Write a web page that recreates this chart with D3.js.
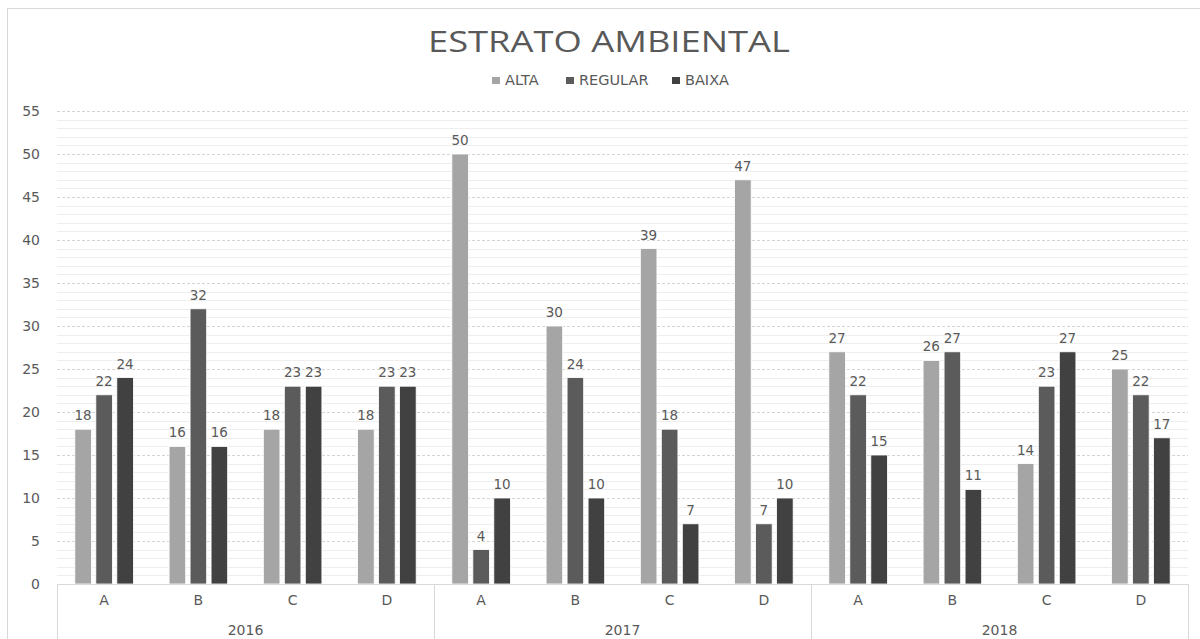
<!DOCTYPE html>
<html>
<head>
<meta charset="utf-8">
<script src="https://cdn.jsdelivr.net/npm/d3@7"></script>
<style>
  body { margin: 0; background: #fff; }
  svg { display: block; font-family: "DejaVu Sans", sans-serif; }
</style>
</head>
<body>
<div id="chart"></div>
<script>
// chart data
const years = ["2016", "2017", "2018"];
const categories = ["A", "B", "C", "D"];
const seriesNames = ["ALTA", "REGULAR", "BAIXA"];
const alta    = [18, 16, 18, 18, 50, 30, 39, 47, 27, 26, 14, 25];
const regular = [22, 32, 23, 23, 4, 24, 18, 7, 22, 27, 23, 22];
const baixa   = [24, 16, 23, 23, 10, 10, 7, 10, 15, 11, 27, 17];
const yTicks = [0, 5, 10, 15, 20, 25, 30, 35, 40, 45, 50, 55];

const colors = { ALTA: "#a5a5a5", REGULAR: "#5b5b5b", BAIXA: "#414141" };
const textColor = "#595959";

const W = 1200, H = 639;
const plot = { left: 57, right: 1188, top: 111, bottom: 584 };

const svg = d3.select("#chart").append("svg")
    .attr("width", W)
    .attr("height", H);

// outer chart border (only top/left visible in the crop)
svg.append("rect")
    .attr("x", 7.5).attr("y", 8.5)
    .attr("width", W + 20).attr("height", H + 20)
    .attr("fill", "none")
    .attr("stroke", "#d9d9d9");

// rows: one per year/category pair
const rows = [];
years.forEach((yr, yi) => categories.forEach((c, ci) => {
    const i = yi * categories.length + ci;
    rows.push({ key: yr + "-" + c, year: yr, cat: c, ALTA: alta[i], REGULAR: regular[i], BAIXA: baixa[i] });
}));

const x = d3.scaleBand()
    .domain(rows.map(d => d.key))
    .range([plot.left, plot.right]);

const xYear = d3.scaleBand()
    .domain(years)
    .range([plot.left, plot.right]);

const xSeries = d3.scaleBand()
    .domain(seriesNames)
    .range([0, x.bandwidth()])
    .paddingInner(0.21)
    .paddingOuter(0.85);

const y = d3.scaleLinear()
    .domain([0, 55])
    .range([plot.bottom, plot.top]);

// minor gridlines every 1
svg.append("g")
    .selectAll("line")
    .data(d3.range(1, 56).filter(v => v % 5 !== 0))
    .enter().append("line")
    .attr("x1", plot.left).attr("x2", plot.right)
    .attr("y1", d => Math.round(y(d)) + 0.5)
    .attr("y2", d => Math.round(y(d)) + 0.5)
    .attr("stroke", "#eeeeee");

// major gridlines every 5 (dashed)
svg.append("g")
    .selectAll("line")
    .data(yTicks.filter(v => v > 0))
    .enter().append("line")
    .attr("x1", plot.left).attr("x2", plot.right)
    .attr("y1", d => Math.round(y(d)) + 0.5)
    .attr("y2", d => Math.round(y(d)) + 0.5)
    .attr("stroke", "#d4d4d4")
    .attr("stroke-dasharray", "3,2");

// y axis labels
svg.append("g")
    .selectAll("text")
    .data(yTicks)
    .enter().append("text")
    .attr("x", 40)
    .attr("y", d => y(d))
    .attr("dy", "0.35em")
    .attr("text-anchor", "end")
    .attr("font-size", "14px")
    .attr("fill", textColor)
    .text(d => d);

// bars
const groups = svg.append("g")
    .selectAll("g")
    .data(rows)
    .enter().append("g")
    .attr("transform", d => `translate(${x(d.key)},0)`);

groups.selectAll("rect")
    .data(d => seriesNames.map(s => ({ s, v: d[s] })))
    .enter().append("rect")
    .attr("x", d => xSeries(d.s))
    .attr("y", d => y(d.v))
    .attr("width", xSeries.bandwidth())
    .attr("height", d => y(0) - y(d.v))
    .attr("fill", d => colors[d.s])
    .attr("stroke", "#ffffff")
    .attr("stroke-width", 0.8);

// value labels
groups.selectAll("text")
    .data(d => seriesNames.map(s => ({ s, v: d[s] })))
    .enter().append("text")
    .attr("x", d => xSeries(d.s) + xSeries.bandwidth() / 2)
    .attr("y", d => y(d.v) - 9)
    .attr("text-anchor", "middle")
    .attr("font-size", "13.5px")
    .attr("fill", textColor)
    .text(d => d.v);

// category axis line
svg.append("line")
    .attr("x1", plot.left).attr("x2", plot.right)
    .attr("y1", plot.bottom + 0.5).attr("y2", plot.bottom + 0.5)
    .attr("stroke", "#d9d9d9");

// year separators
svg.append("g")
    .selectAll("line")
    .data(years.map(yr => xYear(yr)).concat([plot.right]))
    .enter().append("line")
    .attr("x1", d => Math.round(d) + 0.5).attr("x2", d => Math.round(d) + 0.5)
    .attr("y1", plot.bottom).attr("y2", H)
    .attr("stroke", "#d9d9d9");

// category labels
svg.append("g")
    .selectAll("text")
    .data(rows)
    .enter().append("text")
    .attr("x", d => x(d.key) + x.bandwidth() / 2)
    .attr("y", 605)
    .attr("text-anchor", "middle")
    .attr("font-size", "14px")
    .attr("fill", textColor)
    .text(d => d.cat);

// year labels
svg.append("g")
    .selectAll("text")
    .data(years)
    .enter().append("text")
    .attr("x", d => xYear(d) + xYear.bandwidth() / 2)
    .attr("y", 635)
    .attr("text-anchor", "middle")
    .attr("font-size", "14px")
    .attr("fill", textColor)
    .text(d => d);

// title
svg.append("text")
    .attr("x", 609)
    .attr("y", 52)
    .attr("text-anchor", "middle")
    .attr("font-family", "'Open Sans', sans-serif")
    .attr("font-size", "30px")
    .attr("fill", textColor)
    .attr("textLength", 362)
    .attr("lengthAdjust", "spacingAndGlyphs")
    .text("ESTRATO AMBIENTAL");

// legend
const legendX = [492, 566, 672];
const legend = svg.append("g")
    .selectAll("g")
    .data(seriesNames)
    .enter().append("g")
    .attr("transform", (d, i) => `translate(${legendX[i]},77)`);

legend.append("rect")
    .attr("width", 8).attr("height", 7)
    .attr("fill", d => colors[d]);

legend.append("text")
    .attr("x", 13)
    .attr("y", 8)
    .attr("font-size", "14.5px")
    .attr("fill", textColor)
    .text(d => d);
</script>
</body>
</html>
